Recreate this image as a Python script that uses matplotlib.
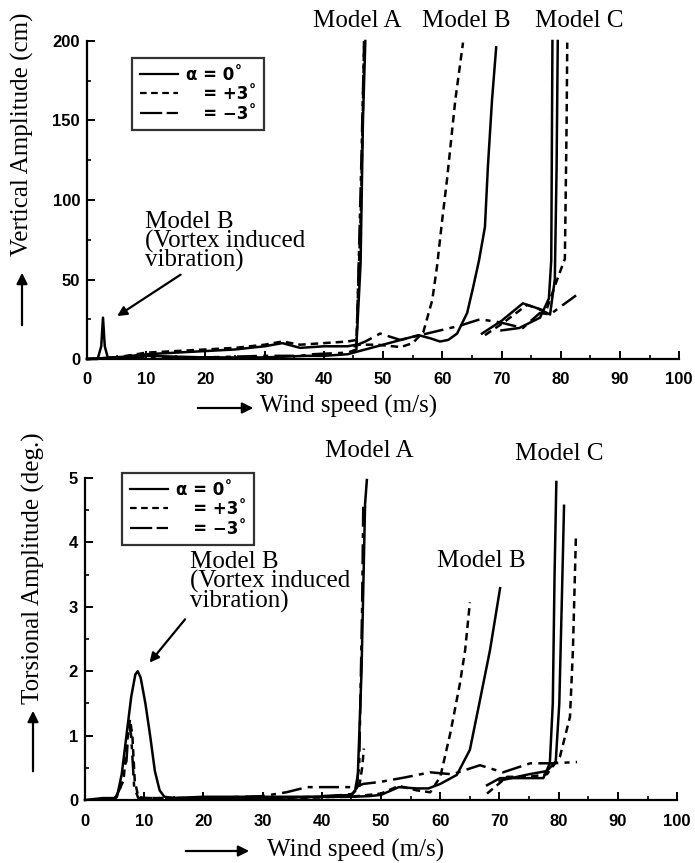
import matplotlib.pyplot as plt
from matplotlib.lines import Line2D
from matplotlib.ticker import MultipleLocator

# ---- vertical amplitude (cm) ----
vA0_x = [0, 5, 10, 15, 20, 25, 30, 33, 36, 40, 44, 45.5, 46.2, 46.6, 47.0]
vA0_y = [0, 1, 3, 4, 5, 6, 8, 10, 7, 8, 8, 9, 60, 150, 200]
vAp_x = [0, 5, 10, 15, 20, 25, 30, 33, 36, 40, 44, 45.5, 46.3, 46.8]
vAp_y = [0, 1, 4, 5, 6, 7, 9, 11, 9, 10, 11, 12, 100, 200]
vAm_x = [0, 10, 20, 30, 36, 38, 44, 45.5, 46.3, 46.8]
vAm_y = [0, 1, 1, 2, 2, 3, 4, 6, 120, 200]

vB0_x = [0, 1.8, 2.4, 2.7, 3.0, 3.5, 6, 10, 20, 30, 37, 40, 44, 47, 50, 53, 56,
         58, 59.6, 61, 62.5, 64.2, 65.2, 66.2, 67.2, 67.7, 68.4, 69.1]
vB0_y = [0, 0, 8, 26, 8, 1, 1, 2, 1, 1, 2, 2, 3, 6, 9, 12, 15,
         13, 11, 12, 16, 29, 45, 62, 83, 121, 163, 196]
vBp_x = [45, 46, 49, 53, 55, 56.8, 58.3, 59.1, 60.0, 60.8, 62.2, 63.5]
vBp_y = [8, 9, 9, 7.5, 10, 17, 37, 58, 88, 113, 163, 199]
vBm_x = [45, 47, 49.5, 52.9, 57.4, 63, 66.4, 69.8, 73.6, 76.5, 78.2, 80, 82.6]
vBm_y = [8, 11, 16, 12, 16, 21, 25, 23, 19.5, 29, 28, 33, 40]

vC0_x = [70, 73, 76.5, 78, 78.4, 78.6]
vC0_y = [18, 19.5, 26, 38, 62, 200]
vCp_x = [67.2, 70, 74.3, 76, 77.5, 79.4, 80.7, 81, 81.1]
vCp_y = [15, 22, 34, 32, 30, 50, 63, 150, 199]
vCm_x = [66.7, 70, 73.6, 76, 78.2, 79, 79.3, 79.5]
vCm_y = [16, 24, 35, 32, 28, 50, 120, 200]

# ---- torsional amplitude (deg) ----
tA0_x = [15, 20, 30, 40, 45, 46, 46.7, 47.3, 47.6]
tA0_y = [0.02, 0.02, 0.03, 0.05, 0.08, 0.2, 2, 4.6, 4.97]
tAp_x = [30, 40, 45, 46.3, 46.8, 47.1]
tAp_y = [0.02, 0.04, 0.08, 0.2, 0.5, 0.8]
tAm_x = [40, 44, 45.5, 46.3, 46.8, 47.0]
tAm_y = [0.06, 0.08, 0.1, 0.5, 3, 4.6]

tB0_x = [0, 3, 5, 5.4, 6.2, 7, 7.8, 8.5, 8.9, 9.4, 10.2, 11, 11.8, 12.6, 13.4,
         15, 20, 25, 30, 35, 40, 45, 48, 50, 53, 56, 58, 60, 62.8, 65, 66.7,
         68.4, 70.1]
tB0_y = [0, 0.03, 0.03, 0.05, 0.4, 1.0, 1.6, 1.95, 2.0, 1.9, 1.5, 1.0, 0.45,
         0.15, 0.05, 0.03, 0.05, 0.05, 0.05, 0.05, 0.05, 0.05, 0.06, 0.08, 0.2,
         0.18, 0.18, 0.25, 0.39, 0.78, 1.55, 2.33, 3.29]
tBp_x = [5, 6.5, 7.2, 7.6, 8.0, 8.4, 9, 10, 15, 30, 45, 50, 53, 56, 58.3, 60,
         61.7, 63.3, 64.2, 65]
tBp_y = [0, 0.3, 1.0, 1.25, 1.0, 0.3, 0.05, 0.03, 0.03, 0.04, 0.05, 0.1, 0.22,
         0.15, 0.12, 0.36, 1.04, 1.8, 2.33, 3.07]
tBm_x = [5, 6.0, 6.5, 7.0, 7.4, 7.8, 8.3, 9, 12, 20, 30, 34, 37.5, 42, 45.5, 47,
         49.8, 54, 58.3, 62, 66.7, 70.6, 75.2, 79, 83.1]
tBm_y = [0, 0.2, 0.5, 0.6, 1.2, 1.0, 0.2, 0.03, 0.03, 0.03, 0.06, 0.12, 0.2, 0.2,
         0.2, 0.25, 0.28, 0.35, 0.43, 0.4, 0.54, 0.43, 0.57, 0.57, 0.59]

tC0_x = [67.9, 70.1, 74, 77.4, 78.5, 79.0, 79.3, 79.6]
tC0_y = [0.23, 0.34, 0.34, 0.34, 0.57, 1.5, 3.5, 4.94]
tCm_x = [70, 75, 78, 79.5, 80.1, 80.5, 80.9]
tCm_y = [0.3, 0.4, 0.45, 0.6, 1.5, 3.0, 4.57]
tCp_x = [67.9, 71.3, 75, 78, 80.2, 81.9, 82.4, 82.9]
tCp_y = [0.1, 0.36, 0.36, 0.4, 0.67, 1.29, 2.33, 4.07]

xticks = [0, 10, 20, 30, 40, 50, 60, 70, 80, 90, 100]
vticks = [0, 50, 100, 150, 200]
tticks = [0, 1, 2, 3, 4, 5]
legend_labels = ["α = 0˚", "   = +3˚", "   = −3˚"]

SOLID = "-"
DOT = (0, (3, 2))
DASHDOT = (0, (8, 2.5, 2, 2.5))
serif = "Liberation Serif"
tickfont = {"family": "Liberation Sans", "weight": "bold", "size": 12}

fig = plt.figure(figsize=(6.95, 8.63), dpi=100)
ax1 = fig.add_axes([0.1252, 0.584, 0.852, 0.3685])
ax2 = fig.add_axes([0.1223, 0.073, 0.852, 0.373])


def style_axis(ax, yticks, yminor, xpad):
    for s in ["top", "right"]:
        ax.spines[s].set_visible(False)
    for s in ["left", "bottom"]:
        ax.spines[s].set_linewidth(1.6)
    ax.set_xlim(0, 100)
    ax.set_ylim(yticks[0], yticks[-1])
    ax.set_xticks(xticks)
    ax.set_yticks(yticks)
    ax.xaxis.set_minor_locator(MultipleLocator(5))
    ax.yaxis.set_minor_locator(MultipleLocator(yminor))
    ax.tick_params(which="major", direction="in", length=6, width=1.4, pad=5)
    ax.tick_params(axis="x", which="major", pad=xpad)
    ax.tick_params(which="minor", direction="in", length=3, width=1.2)
    for lab in ax.get_xticklabels() + ax.get_yticklabels():
        lab.set_fontproperties(tickfont)


def draw(ax, x, y, ls):
    ax.plot(x, y, color="black", lw=1.8, linestyle=ls, clip_on=False)


style_axis(ax1, vticks, 25, 9)
draw(ax1, vA0_x, vA0_y, SOLID)
draw(ax1, vAp_x, vAp_y, DOT)
draw(ax1, vAm_x, vAm_y, DASHDOT)
draw(ax1, vB0_x, vB0_y, SOLID)
draw(ax1, vBp_x, vBp_y, DOT)
draw(ax1, vBm_x, vBm_y, DASHDOT)
draw(ax1, vC0_x, vC0_y, SOLID)
draw(ax1, vCp_x, vCp_y, DOT)
draw(ax1, vCm_x, vCm_y, SOLID)

style_axis(ax2, tticks, 0.5, 10)
draw(ax2, tA0_x, tA0_y, SOLID)
draw(ax2, tAp_x, tAp_y, DOT)
draw(ax2, tAm_x, tAm_y, DASHDOT)
draw(ax2, tB0_x, tB0_y, SOLID)
draw(ax2, tBp_x, tBp_y, DOT)
draw(ax2, tBm_x, tBm_y, DASHDOT)
draw(ax2, tC0_x, tC0_y, SOLID)
draw(ax2, tCp_x, tCp_y, DOT)
draw(ax2, tCm_x, tCm_y, SOLID)

# legends
handles = [Line2D([], [], color="black", lw=1.6, linestyle=SOLID),
           Line2D([], [], color="black", lw=1.6, linestyle=DOT),
           Line2D([], [], color="black", lw=1.6, linestyle=(0, (10, 2)))]
for ax, anchor in [(ax1, (0.076, 0.9465)), (ax2, (0.0625, 1.0155))]:
    leg = ax.legend(handles, legend_labels, loc="upper left", bbox_to_anchor=anchor,
                    borderaxespad=0, frameon=True, fancybox=False, handlelength=2.3,
                    handletextpad=0.5, labelspacing=0.1, borderpad=0.45,
                    prop={"family": "DejaVu Sans", "weight": "bold", "size": 12})
    leg.get_frame().set_edgecolor("black")
    leg.get_frame().set_linewidth(1.6)

# model labels
for x, y, t in [(45.6, 212.6, "Model A"), (64.0, 212.6, "Model B"), (83.1, 212.6, "Model C")]:
    ax1.text(x, y, t, ha="center", va="center", family=serif, fontsize=18)
for x, y, t in [(48.0, 5.42, "Model A"), (80.1, 5.37, "Model C"), (66.9, 3.71, "Model B")]:
    ax2.text(x, y, t, ha="center", va="center", family=serif, fontsize=18)

vortex = "Model B\n(Vortex induced\nvibration)"
ax1.text(9.8, 93, vortex, ha="left", va="top", family=serif, fontsize=18, linespacing=0.8)
ax1.annotate("", xy=(4.7, 26), xytext=(16.2, 54),
             arrowprops=dict(arrowstyle="-|>", color="black", lw=1.6, mutation_scale=14))
ax2.text(17.7, 3.86, vortex, ha="left", va="top", family=serif, fontsize=18, linespacing=0.8)
ax2.annotate("", xy=(10.6, 2.1), xytext=(17.2, 2.84),
             arrowprops=dict(arrowstyle="-|>", color="black", lw=1.6, mutation_scale=14))

# axis titles with arrows
fig.text(22 / 695, 1 - 134 / 863, "Vertical Amplitude (cm)", rotation=90,
         ha="center", va="center", family=serif, fontsize=18)
fig.text(33 / 695, 1 - 568 / 863, "Torsional Amplitude (deg.)", rotation=90,
         ha="center", va="center", family=serif, fontsize=18)
fig.text(260 / 695, 1 - 406 / 863, "Wind speed (m/s)", ha="left", va="center",
         family=serif, fontsize=18)
fig.text(267 / 695, 1 - 850 / 863, "Wind speed (m/s)", ha="left", va="center",
         family=serif, fontsize=18)

arrow = dict(arrowstyle="-|>", color="black", lw=1.6, mutation_scale=16)
fig.add_artist(plt.Annotation("", xy=(22 / 695, 1 - 270 / 863), xytext=(22 / 695, 1 - 328 / 863),
                              xycoords="figure fraction", arrowprops=arrow))
fig.add_artist(plt.Annotation("", xy=(33 / 695, 1 - 708 / 863), xytext=(33 / 695, 1 - 774 / 863),
                              xycoords="figure fraction", arrowprops=arrow))
fig.add_artist(plt.Annotation("", xy=(256 / 695, 1 - 408 / 863), xytext=(195 / 695, 1 - 408 / 863),
                              xycoords="figure fraction", arrowprops=arrow))
fig.add_artist(plt.Annotation("", xy=(252 / 695, 1 - 851 / 863), xytext=(183 / 695, 1 - 851 / 863),
                              xycoords="figure fraction", arrowprops=arrow))

fig.savefig("out.png", dpi=100)
